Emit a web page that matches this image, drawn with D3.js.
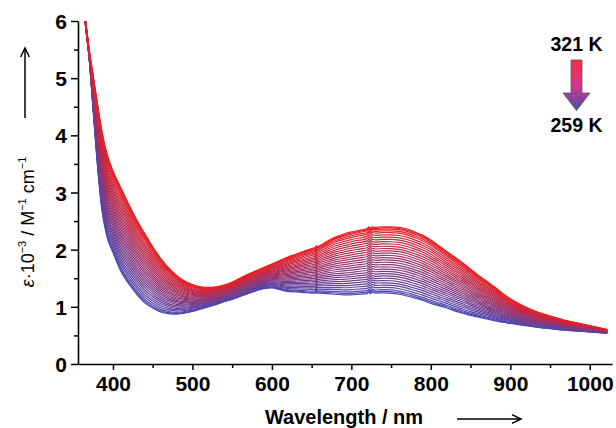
<!DOCTYPE html>
<html>
<head>
<meta charset="utf-8">
<script src="https://cdn.jsdelivr.net/npm/d3@7"></script>
<style>
  body { margin: 0; background: #fff; }
  text { font-family: 'Liberation Sans', Arial, sans-serif; }
</style>
</head>
<body>
<div id="chart"></div>
<script>
// wavelength grid (nm) and the two end spectra
const wavelengths = [362, 366, 370, 375, 380, 386, 392, 400, 410, 420, 430, 440, 450, 460, 470, 480, 490, 500,
  510, 520, 530, 540, 550, 560, 570, 580, 590, 600, 610, 620, 630, 640, 650, 655, 656, 657, 660, 670, 680,
  690, 700, 710, 720, 722, 724, 726, 730, 740, 750, 760, 770, 780, 790, 800, 810, 820, 830, 840, 850, 860,
  870, 880, 890, 900, 910, 920, 930, 940, 950, 960, 970, 980, 990, 1000, 1010, 1022]

const eps321 = [6.45, 5.95, 5.50, 5.05, 4.60, 4.08, 3.70, 3.38, 3.08, 2.79, 2.52, 2.28, 2.05, 1.85, 1.68, 1.55, 1.45, 1.39,
  1.35, 1.34, 1.35, 1.38, 1.43, 1.50, 1.57, 1.63, 1.69, 1.75, 1.81, 1.87, 1.92, 1.97, 2.02, 2.04, 2.07, 2.05, 2.07, 2.15, 2.22,
  2.27, 2.31, 2.34, 2.37, 2.40, 2.37, 2.40, 2.39, 2.40, 2.40, 2.39, 2.36, 2.31, 2.25, 2.17, 2.07, 1.97, 1.87, 1.77, 1.66, 1.55,
  1.45, 1.35, 1.24, 1.14, 1.06, 0.99, 0.93, 0.88, 0.84, 0.80, 0.76, 0.73, 0.70, 0.67, 0.64, 0.60]

const eps259 = [6.35, 5.85, 5.35, 4.45, 3.55, 2.70, 2.25, 1.95, 1.62, 1.40, 1.22, 1.07, 0.98, 0.91, 0.88, 0.87, 0.89, 0.92,
  0.96, 1.00, 1.04, 1.09, 1.13, 1.18, 1.23, 1.28, 1.32, 1.33, 1.30, 1.27, 1.26, 1.25, 1.24, 1.24, 1.27, 1.24, 1.24, 1.23, 1.22,
  1.21, 1.21, 1.22, 1.23, 1.26, 1.23, 1.26, 1.24, 1.245, 1.24, 1.22, 1.19, 1.15, 1.11, 1.06, 1.02, 0.98, 0.93, 0.89, 0.85, 0.82,
  0.79, 0.76, 0.73, 0.71, 0.69, 0.67, 0.65, 0.63, 0.62, 0.60, 0.59, 0.58, 0.57, 0.56, 0.55, 0.54]

// temperatures of the recorded spectra and the band maximum (740 nm) of each one
const temps = [321, 319, 317, 315, 313, 311, 309, 307, 305, 303, 301, 299, 297, 295, 293, 291,
  289, 287, 285, 283, 281, 279, 277, 275, 273, 271, 269, 267, 265, 263, 261, 259]
const peak740 = [2.40, 2.38, 2.36, 2.33, 2.30, 2.26, 2.22, 2.18, 2.14, 2.10, 2.06, 2.02, 1.98, 1.94, 1.90, 1.86,
  1.82, 1.78, 1.74, 1.70, 1.66, 1.62, 1.58, 1.54, 1.50, 1.46, 1.42, 1.38, 1.34, 1.30, 1.27, 1.245]

const yTicks = [0, 1, 2, 3, 4, 5, 6]
const yMinor = [0.5, 1.5, 2.5, 3.5, 4.5, 5.5]
const xTicks = [400, 500, 600, 700, 800, 900, 1000]
const xMinor = [450, 550, 650, 750, 850, 950]

const margin = { top: 21, right: 4, bottom: 64, left: 78 }
const width = 616 - margin.left - margin.right
const height = 428 - margin.top - margin.bottom

const svgRoot = d3.select('#chart')
  .append('svg')
  .attr('width', 616)
  .attr('height', 428)

const svg = svgRoot.append('g')
  .attr('transform', 'translate(' + margin.left + ',' + margin.top + ')')

const x = d3.scaleLinear().domain([356, 1028]).range([0, width])
const y = d3.scaleLinear().domain([0, 6]).range([height, 0])

const color = d3.scaleLinear()
  .domain([259, 321])
  .range(['#4848b4', '#f01e1e'])
  .interpolate(d3.interpolateRgb)

const defs = svgRoot.append('defs')
defs.append('clipPath')
  .attr('id', 'clip')
  .append('rect')
  .attr('width', width)
  .attr('height', height)

// spectra
const i740 = wavelengths.indexOf(740)
const series = temps.map(function (t, k) {
  const f = (peak740[k] - eps259[i740]) / (eps321[i740] - eps259[i740])
  return {
    temp: t,
    values: wavelengths.map(function (w, i) {
      return { w: w, v: eps259[i] + f * (eps321[i] - eps259[i]) }
    })
  }
}).reverse()

const line = d3.line()
  .x(function (d) { return x(d.w) })
  .y(function (d) { return y(d.v) })
  .curve(d3.curveMonotoneX)

svg.append('g')
  .attr('clip-path', 'url(#clip)')
  .selectAll('path')
  .data(series)
  .enter()
  .append('path')
  .attr('fill', 'none')
  .attr('stroke', function (d) { return color(d.temp) })
  .attr('stroke-width', 1.2)
  .attr('d', function (d) { return line(d.values) })

// axes
function styleAxis (g) {
  g.selectAll('.domain').attr('stroke-width', 1.6)
  g.selectAll('.tick line').attr('stroke-width', 1.5)
  g.selectAll('.tick text')
    .attr('font-size', 21)
    .attr('font-weight', 'bold')
    .attr('fill', '#000')
    .style('font-family', "'Liberation Sans', Arial, sans-serif")
}

svg.append('g')
  .call(d3.axisLeft(y).tickValues(yMinor).tickSize(4).tickFormat(''))
  .call(function (g) { g.select('.domain').remove() })
  .call(styleAxis)

svg.append('g')
  .call(d3.axisLeft(y).tickValues(yTicks).tickSize(7).tickSizeOuter(0).tickPadding(4).tickFormat(d3.format('d')))
  .call(styleAxis)
  .selectAll('.tick text').attr('dy', '0.36em')

svg.append('g')
  .attr('transform', 'translate(0,' + height + ')')
  .call(d3.axisBottom(x).tickValues(xMinor).tickSize(4).tickFormat(''))
  .call(function (g) { g.select('.domain').remove() })
  .call(styleAxis)

svg.append('g')
  .attr('transform', 'translate(0,' + height + ')')
  .call(d3.axisBottom(x).tickValues(xTicks).tickSize(6).tickSizeOuter(0).tickPadding(6).tickFormat(d3.format('d')))
  .call(styleAxis)

// axis titles with arrows
svgRoot.append('text')
  .attr('x', 344)
  .attr('y', 424)
  .attr('text-anchor', 'middle')
  .attr('font-size', 20)
  .attr('font-weight', 'bold')
  .text('Wavelength / nm')

function arrow (x1, y1, x2, y2) {
  const a = Math.atan2(y2 - y1, x2 - x1)
  const h = 10
  svgRoot.append('line')
    .attr('x1', x1).attr('y1', y1).attr('x2', x2).attr('y2', y2)
    .attr('stroke', '#000').attr('stroke-width', 1.5)
  svgRoot.append('path')
    .attr('d', 'M' + (x2 - h * Math.cos(a - 0.45)) + ',' + (y2 - h * Math.sin(a - 0.45)) +
      'L' + x2 + ',' + y2 +
      'L' + (x2 - h * Math.cos(a + 0.45)) + ',' + (y2 - h * Math.sin(a + 0.45)))
    .attr('fill', 'none').attr('stroke', '#000').attr('stroke-width', 1.5)
}
arrow(457, 419, 521, 419)
arrow(25, 118, 25, 48)

const ylab = svgRoot.append('text')
  .attr('transform', 'translate(34,222) rotate(-90)')
  .attr('text-anchor', 'middle')
  .attr('font-size', 18)
ylab.append('tspan').attr('font-style', 'italic').text('ε')
ylab.append('tspan').text('·10')
ylab.append('tspan').attr('font-size', 11).attr('dy', -8).text('−3')
ylab.append('tspan').attr('dy', 8).text(' / M')
ylab.append('tspan').attr('font-size', 11).attr('dy', -8).text('−1')
ylab.append('tspan').attr('dy', 8).text(' cm')
ylab.append('tspan').attr('font-size', 11).attr('dy', -8).text('−1')

// temperature legend
const grad = defs.append('linearGradient')
  .attr('id', 'tgrad')
  .attr('x1', 0).attr('y1', 0).attr('x2', 0).attr('y2', 1)
grad.append('stop').attr('offset', '0%').attr('stop-color', '#f5303c')
grad.append('stop').attr('offset', '50%').attr('stop-color', '#d8348e')
grad.append('stop').attr('offset', '100%').attr('stop-color', '#4a4ca6')

const lx = 576.5
svgRoot.append('path')
  .attr('d', 'M' + (lx - 5.5) + ',60L' + (lx + 5.5) + ',60L' + (lx + 5.5) + ',93L' + (lx + 13.5) + ',93L' +
    lx + ',110.5L' + (lx - 13.5) + ',93L' + (lx - 5.5) + ',93Z')
  .attr('fill', 'url(#tgrad)')
  .attr('stroke', '#555')
  .attr('stroke-width', 0.8)

svgRoot.append('text')
  .attr('x', lx).attr('y', 50.5)
  .attr('text-anchor', 'middle')
  .attr('font-size', 19.5).attr('font-weight', 'bold')
  .text(temps[0] + ' K')

svgRoot.append('text')
  .attr('x', lx).attr('y', 132)
  .attr('text-anchor', 'middle')
  .attr('font-size', 19.5).attr('font-weight', 'bold')
  .text(temps[temps.length - 1] + ' K')
</script>
</body>
</html>
